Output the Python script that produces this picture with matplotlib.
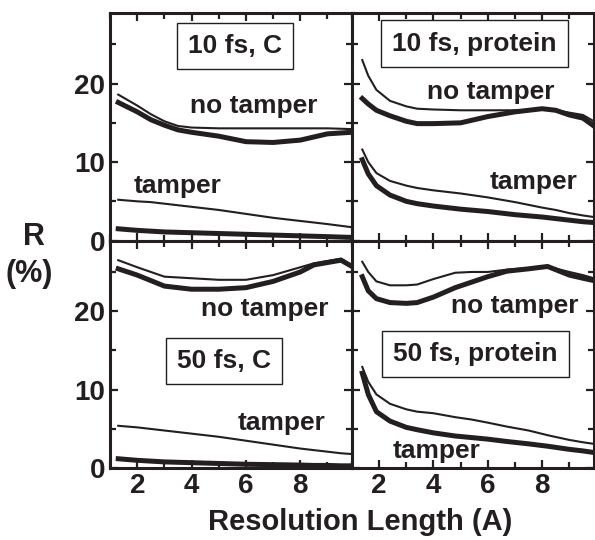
import matplotlib
matplotlib.use("Agg")
import matplotlib.pyplot as plt
from matplotlib.ticker import MultipleLocator

plt.rcParams['font.family'] = ['Liberation Sans', 'DejaVu Sans']
plt.rcParams['font.weight'] = 'bold'
ink = '#231f20'

# 10 fs, C
x_tl = [1.3, 2, 2.5, 3, 3.5, 4, 5, 6, 7, 8, 9, 9.9]
tl_nt_thin = [18.6, 17.2, 16.1, 15.2, 14.6, 14.4, 14.3, 14.3, 14.3, 14.3, 14.3, 14.2]
tl_nt_thick = [17.6, 16.4, 15.4, 14.7, 14.1, 13.8, 13.3, 12.6, 12.5, 12.8, 13.6, 13.8]
tl_t_thin = [5.2, 5.0, 4.9, 4.7, 4.5, 4.3, 3.9, 3.4, 2.9, 2.5, 2.1, 1.7]
tl_t_thick = [1.5, 1.3, 1.2, 1.1, 1.05, 1.0, 0.9, 0.8, 0.7, 0.6, 0.5, 0.4]

# 10 fs, protein
x_tr = [1.38, 1.6, 1.9, 2.4, 3, 3.4, 4, 5, 6, 7, 8, 8.5, 9, 9.5, 9.9]
tr_nt_thin = [23.0, 21.0, 19.2, 17.8, 17.1, 16.8, 16.7, 16.6, 16.6, 16.6, 16.7, 16.6, 16.3, 16.0, 15.2]
tr_nt_thick = [18.1, 17.4, 16.6, 15.9, 15.2, 14.9, 14.9, 15.0, 15.8, 16.4, 16.8, 16.6, 16.0, 15.6, 14.6]
tr_t_thin = [11.6, 10.0, 8.6, 7.6, 7.0, 6.7, 6.4, 6.0, 5.5, 4.9, 4.2, 3.9, 3.5, 3.2, 3.0]
tr_t_thick = [10.3, 8.5, 7.0, 5.8, 5.0, 4.7, 4.4, 4.0, 3.7, 3.3, 3.0, 2.8, 2.6, 2.4, 2.3]

# 50 fs, C
x_bl = [1.3, 2, 3, 4, 5, 6, 7, 8, 8.5, 9, 9.5, 9.9]
bl_nt_thin = [26.5, 25.6, 24.4, 24.2, 24.0, 24.0, 24.6, 25.6, 26.1, 26.4, 26.7, 25.8]
bl_nt_thick = [25.4, 24.6, 23.2, 22.8, 22.8, 23.0, 23.8, 25.0, 25.9, 26.2, 26.5, 25.7]
bl_t_thin = [5.4, 5.2, 4.8, 4.4, 4.0, 3.5, 3.0, 2.5, 2.3, 2.1, 1.9, 1.8]
bl_t_thick = [1.2, 1.0, 0.8, 0.7, 0.6, 0.5, 0.45, 0.4, 0.35, 0.35, 0.3, 0.3]

# 50 fs, protein
x_br = [1.38, 1.6, 1.9, 2.4, 3, 3.4, 4, 4.8, 5.4, 6, 6.7, 7.5, 8.2, 9, 9.5, 9.9]
br_nt_thin = [26.3, 25.0, 23.8, 23.3, 23.3, 23.4, 24.1, 24.9, 25.0, 25.0, 25.3, 25.5, 25.7, 25.0, 24.6, 24.2]
br_nt_thick = [24.4, 22.6, 21.6, 21.1, 21.0, 21.1, 21.8, 23.0, 23.7, 24.4, 25.1, 25.4, 25.7, 24.6, 24.2, 23.9]
br_t_thin = [12.9, 11.0, 9.4, 8.2, 7.5, 7.2, 7.0, 6.5, 6.2, 5.8, 5.3, 4.8, 4.2, 3.6, 3.3, 3.1]
br_t_thick = [12.1, 9.4, 7.2, 6.0, 5.2, 4.9, 4.5, 4.1, 3.9, 3.7, 3.4, 3.1, 2.8, 2.4, 2.2, 2.0]

panels = [
    (x_tl, tl_nt_thin, tl_nt_thick, tl_t_thin, tl_t_thick, "10 fs, C", (5.6, 24.8), (6.3, 17.2), (3.5, 7.0)),
    (x_tr, tr_nt_thin, tr_nt_thick, tr_t_thin, tr_t_thick, "10 fs, protein", (5.5, 25.1), (6.1, 18.9), (7.7, 7.4)),
    (x_bl, bl_nt_thin, bl_nt_thick, bl_t_thin, bl_t_thick, "50 fs, C", (5.2, 13.7), (6.7, 20.3), (7.3, 5.8)),
    (x_br, br_nt_thin, br_nt_thick, br_t_thin, br_t_thick, "50 fs, protein", (5.55, 14.6), (7.0, 20.6), (4.1, 2.2)),
]

fig, axes = plt.subplots(2, 2, figsize=(5.95, 5.40), dpi=100)
fig.subplots_adjust(left=0.185, right=0.998, top=0.976, bottom=0.133, wspace=0, hspace=0)

for ax, (x, nt1, nt2, t1, t2, title, tpos, ntpos, tapos) in zip(axes.flat, panels):
    ax.plot(x, nt1, color=ink, lw=1.5)
    ax.plot(x, nt2, color=ink, lw=3.6)
    ax.plot(x, t1, color=ink, lw=1.5)
    ax.plot(x, t2, color=ink, lw=3.6)
    ax.set_xlim(1.0, 9.9)
    ax.set_ylim(0, 29)
    ax.xaxis.set_major_locator(MultipleLocator(2))
    ax.xaxis.set_minor_locator(MultipleLocator(1))
    ax.yaxis.set_major_locator(MultipleLocator(10))
    ax.yaxis.set_minor_locator(MultipleLocator(5))
    ax.tick_params(which='both', direction='in', top=True, right=True, width=1.6, color=ink,
                   labelsize=20, labelcolor=ink)
    ax.tick_params(which='major', length=6)
    ax.tick_params(which='minor', length=4)
    for s in ax.spines.values():
        s.set_linewidth(2.2)
        s.set_color(ink)
    ax.text(*tpos, title, ha='center', va='center', fontsize=19, color=ink,
            bbox=dict(boxstyle='square,pad=0.42', fc='white', ec=ink, lw=1.0))
    ax.text(*ntpos, "no tamper", ha='center', va='center', fontsize=19, color=ink)
    ax.text(*tapos, "tamper", ha='center', va='center', fontsize=19, color=ink)

for ax in axes[0]:
    ax.tick_params(labelbottom=False)
for ax in axes[:, 1]:
    ax.tick_params(labelleft=False)

fig.text(34 / 595, 1 - 237 / 540, "R", ha='center', va='center', fontsize=22, color=ink)
fig.text(29 / 595, 1 - 274 / 540, "(%)", ha='center', va='center', fontsize=22, color=ink)
fig.text(360 / 595, 1 - 522 / 540, "Resolution Length (A)", ha='center', va='center',
         fontsize=21, color=ink)

fig.savefig("out.png", dpi=100)
